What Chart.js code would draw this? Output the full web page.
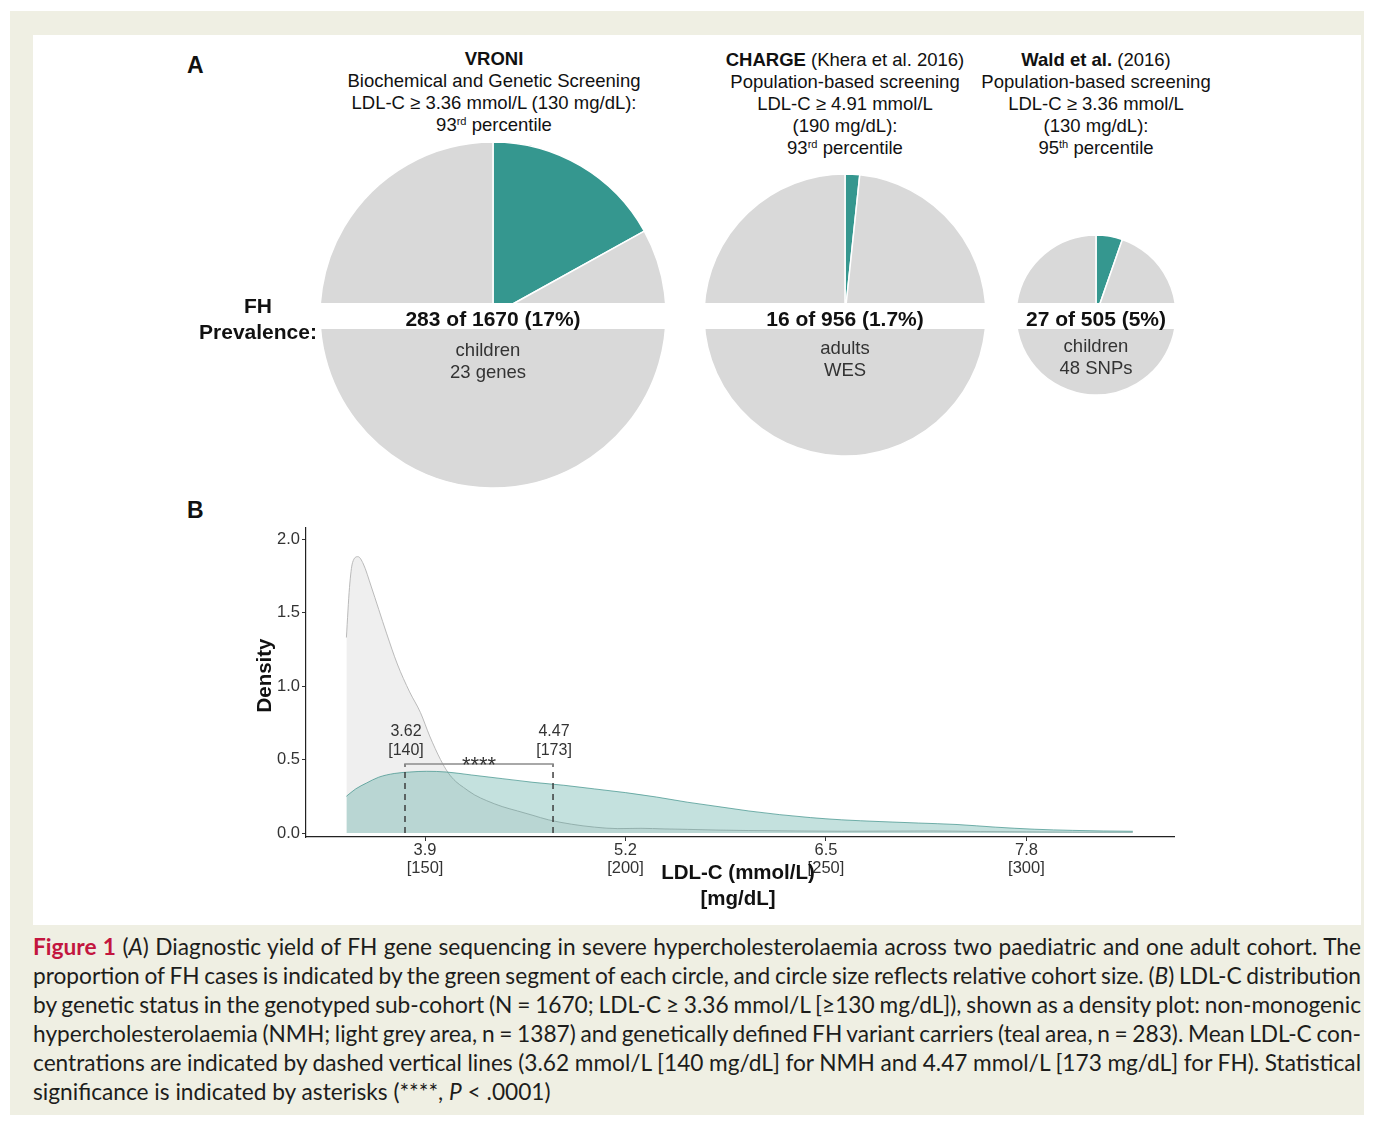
<!DOCTYPE html>
<html>
<head>
<meta charset="utf-8">
<script src="https://cdn.jsdelivr.net/npm/chart.js@4.4.1/dist/chart.umd.min.js"></script>
<style>
  body { margin: 0; background: #fff; }
  #page { position: relative; width: 1373px; height: 1125px; overflow: hidden; font-family: "Liberation Sans", Arial, sans-serif; color: #111; }
  #frame { position: absolute; left: 10px; top: 11px; width: 1354px; height: 1104px; background: #efefe3; }
  #panel { position: absolute; left: 33px; top: 35px; width: 1328px; height: 890px; background: #fff; }
  canvas { position: absolute; }
  .c { position: absolute; transform: translateX(-50%); text-align: center; white-space: nowrap; }
  .title { font-size: 18.5px; line-height: 22px; color: #111; }
  .big { font-size: 21px; line-height: 26px; font-weight: bold; color: #111; }
  .sub { font-size: 18.5px; line-height: 22px; color: #333; }
  .letter { position: absolute; font-size: 23px; font-weight: bold; }
  sup { font-size: 0.6em; vertical-align: 0.55em; line-height: 0; }
  #band { position: absolute; left: 300px; top: 303px; width: 900px; height: 26px; background: #fff; }
  #caption { position: absolute; left: 33px; top: 932px; width: 1328px; font-family: Lato, "Noto Sans", sans-serif; font-size: 22.7px; line-height: 29px; color: #1d1d1b; }
  #caption .ln { white-space: nowrap; }
  #caption .ln span { display: inline-block; }
  .fig { color: #c3163f; }
</style>
</head>
<body>
<div id="page">
  <div id="frame"></div>
  <div id="panel"></div>

  <!-- panel A -->
  <div class="letter" style="left:187px; top:52px;">A</div>
  <div class="c title" style="left:494px; top:48px;"><b>VRONI</b><br>Biochemical and Genetic Screening<br>LDL-C ≥ 3.36 mmol/L (130 mg/dL):<br>93<sup>rd</sup> percentile</div>
  <div class="c title" style="left:845px; top:49px;"><b>CHARGE</b> (Khera et al. 2016)<br>Population-based screening<br>LDL-C ≥ 4.91 mmol/L<br>(190 mg/dL):<br>93<sup>rd</sup> percentile</div>
  <div class="c title" style="left:1096px; top:49px;"><b>Wald et al.</b> (2016)<br>Population-based screening<br>LDL-C ≥ 3.36 mmol/L<br>(130 mg/dL):<br>95<sup>th</sup> percentile</div>

  <canvas id="pie0" width="352" height="352" style="left:317px; top:139px;"></canvas>
  <canvas id="pie1" width="288" height="288" style="left:701px; top:171px;"></canvas>
  <canvas id="pie2" width="166" height="166" style="left:1013px; top:232px;"></canvas>

  <div id="band"></div>
  <div class="c big" style="left:258px; top:293px;">FH<br>Prevalence:</div>
  <div class="c big" style="left:493px; top:306px;">283 of 1670 (17%)</div>
  <div class="c big" style="left:845px; top:306px;">16 of 956 (1.7%)</div>
  <div class="c big" style="left:1096px; top:306px;">27 of 505 (5%)</div>
  <div class="c sub" style="left:488px; top:339px;">children<br>23 genes</div>
  <div class="c sub" style="left:845px; top:337px;">adults<br>WES</div>
  <div class="c sub" style="left:1096px; top:335px;">children<br>48 SNPs</div>

  <!-- panel B -->
  <div class="letter" style="left:187px; top:497px;">B</div>
  <canvas id="dens" width="980" height="410" style="left:230px; top:515px;"></canvas>

  <div id="caption">
    <div class="ln"><span><b class="fig">Figure 1</b> (<i>A</i>) Diagnostic yield of FH gene sequencing in severe hypercholesterolaemia across two paediatric and one adult cohort. The</span></div>
    <div class="ln"><span>proportion of FH cases is indicated by the green segment of each circle, and circle size reflects relative cohort size. (<i>B</i>) LDL-C distribution</span></div>
    <div class="ln"><span>by genetic status in the genotyped sub-cohort (N = 1670; LDL-C ≥ 3.36 mmol/L [≥130 mg/dL]), shown as a density plot: non-monogenic</span></div>
    <div class="ln"><span>hypercholesterolaemia (NMH; light grey area, n = 1387) and genetically defined FH variant carriers (teal area, n = 283). Mean LDL-C con-</span></div>
    <div class="ln"><span>centrations are indicated by dashed vertical lines (3.62 mmol/L [140 mg/dL] for NMH and 4.47 mmol/L [173 mg/dL] for FH). Statistical</span></div>
    <div class="ln last"><span>significance is indicated by asterisks (****, <i>P</i> &lt; .0001)</span></div>
  </div>
</div>

<script>
// panel A: FH cases out of each cohort
const cohorts = ["VRONI", "CHARGE", "Wald"];
const fhCases = [283, 16, 27];
const cohortSize = [1670, 956, 505];
const pieRadius = [173, 141, 80];

// panel B: density curves (LDL-C in mmol/L)
const nmhX = [3.39, 3.41, 3.43, 3.465, 3.50, 3.55, 3.60, 3.65, 3.72, 3.80, 3.87, 3.93, 4.00, 4.05, 4.10, 4.15, 4.22, 4.30, 4.40, 4.50, 4.60, 4.70, 4.85, 5.00, 5.15, 5.30, 5.45, 5.60, 5.80, 6.00, 6.30, 6.60, 6.90, 7.20, 7.50, 7.80, 8.10, 8.49];
const nmhY = [1.33, 1.67, 1.84, 1.88, 1.83, 1.68, 1.52, 1.36, 1.15, 0.96, 0.82, 0.66, 0.50, 0.41, 0.35, 0.31, 0.26, 0.22, 0.18, 0.15, 0.12, 0.09, 0.06, 0.04, 0.03, 0.032, 0.028, 0.025, 0.02, 0.017, 0.014, 0.012, 0.013, 0.014, 0.01, 0.008, 0.006, 0.005];
const fhX = [3.39, 3.45, 3.52, 3.60, 3.70, 3.80, 3.91, 4.04, 4.20, 4.40, 4.60, 4.80, 5.00, 5.20, 5.40, 5.60, 5.80, 6.00, 6.20, 6.40, 6.60, 6.85, 7.10, 7.35, 7.60, 7.85, 8.10, 8.30, 8.49];
const fhY = [0.25, 0.30, 0.34, 0.38, 0.405, 0.415, 0.42, 0.415, 0.395, 0.37, 0.345, 0.325, 0.30, 0.275, 0.245, 0.21, 0.18, 0.15, 0.125, 0.105, 0.09, 0.078, 0.068, 0.058, 0.04, 0.026, 0.018, 0.014, 0.012];
const meanPos = [3.77, 4.73];
const meanLabels = [["3.62", "[140]"], ["4.47", "[173]"]];
const bracketY = 0.47;
const xTicks = [3.9, 5.2, 6.5, 7.8];
const xTicksMg = ["[150]", "[200]", "[250]", "[300]"];
const yTicks = [0, 0.5, 1.0, 1.5, 2.0];

const TEAL = "#35978f";
const PIE_GREY = "#d9d9d9";
const FONT = '"Liberation Sans", Arial, sans-serif';

// caption: stretch each line (except the last) to the full width, like justified print
document.querySelectorAll("#caption .ln:not(.last) span").forEach((sp) => {
  const spaces = (sp.textContent.match(/ /g) || []).length;
  const extra = 1328 - sp.getBoundingClientRect().width;
  sp.style.wordSpacing = (extra / spaces) + "px";
});

cohorts.forEach((name, i) => {
  new Chart(document.getElementById("pie" + i), {
    type: "pie",
    data: {
      labels: ["FH", "no FH"],
      datasets: [{
        data: [fhCases[i], cohortSize[i] - fhCases[i]],
        backgroundColor: [TEAL, PIE_GREY],
        borderColor: "#ffffff",
        borderWidth: 1.5,
        radius: pieRadius[i],
      }],
    },
    options: {
      responsive: false,
      animation: false,
      events: [],
      layout: { padding: 0 },
      plugins: { legend: { display: false }, tooltip: { enabled: false } },
    },
  });
});

const pts = (xs, ys) => xs.map((x, i) => ({ x: x, y: ys[i] }));

// texts on the density plot: mean labels, asterisks, axis titles
const annotations = {
  id: "annotations",
  afterDraw(chart) {
    const { ctx, chartArea: a } = chart;
    const x = chart.scales.x, y = chart.scales.y;
    const yb = y.getPixelForValue(bracketY);
    ctx.save();
    ctx.fillStyle = "#333";
    ctx.textAlign = "center";
    ctx.textBaseline = "middle";
    ctx.font = "16px " + FONT;
    meanPos.forEach((m, i) => {
      const px = x.getPixelForValue(m);
      ctx.fillText(meanLabels[i][0], px + 1, yb - 32);
      ctx.fillText(meanLabels[i][1], px + 1, yb - 13);
    });
    ctx.textBaseline = "alphabetic";
    ctx.font = "22px " + FONT;
    const mid = (x.getPixelForValue(meanPos[0]) + x.getPixelForValue(meanPos[1])) / 2;
    ctx.fillText("****", mid, yb + 8.5);

    ctx.fillStyle = "#111";
    ctx.font = "bold 20.5px " + FONT;
    ctx.textBaseline = "middle";
    const cx = (a.left + a.right) / 2 - 2;
    ctx.fillText("LDL-C (mmol/L)", cx, a.bottom + 36);
    ctx.fillText("[mg/dL]", cx, a.bottom + 62);
    ctx.translate(a.left - 41, (a.top + a.bottom) / 2 - 7);
    ctx.rotate(-Math.PI / 2);
    ctx.fillText("Density", 0, 0);
    ctx.restore();
  },
};

const tickFont = { family: FONT, size: 16.5, lineHeight: 1.1 };

new Chart(document.getElementById("dens"), {
  type: "line",
  data: {
    datasets: [
      { label: "NMH", data: pts(nmhX, nmhY), fill: "origin", backgroundColor: "rgba(205,205,205,0.33)",
        borderColor: "#b3b3b3", borderWidth: 0.9, pointRadius: 0, cubicInterpolationMode: "monotone", order: 5 },
      { label: "FH", data: pts(fhX, fhY), fill: "origin", backgroundColor: "rgba(53,151,143,0.29)",
        borderColor: "rgba(53,140,133,0.75)", borderWidth: 0.9, pointRadius: 0, cubicInterpolationMode: "monotone", order: 4 },
      { label: "mean NMH", data: [{ x: meanPos[0], y: 0 }, { x: meanPos[0], y: bracketY }],
        borderColor: "#333", borderWidth: 1.4, borderDash: [6, 5], pointRadius: 0, fill: false, order: 2 },
      { label: "mean FH", data: [{ x: meanPos[1], y: 0 }, { x: meanPos[1], y: bracketY }],
        borderColor: "#333", borderWidth: 1.4, borderDash: [6, 5], pointRadius: 0, fill: false, order: 2 },
      { label: "bracket", data: [{ x: meanPos[0], y: bracketY - 0.02 }, { x: meanPos[0], y: bracketY }, { x: meanPos[1], y: bracketY }, { x: meanPos[1], y: bracketY - 0.02 }],
        borderColor: "#8c8c8c", borderWidth: 1.6, pointRadius: 0, fill: false, order: 1 },
    ],
  },
  options: {
    responsive: false,
    animation: false,
    events: [],
    layout: { padding: { top: 13, right: 36, left: 0, bottom: 0 } },
    plugins: { legend: { display: false }, tooltip: { enabled: false } },
    scales: {
      x: {
        type: "linear", min: 3.128, max: 8.757,
        afterBuildTicks: (s) => { s.ticks = xTicks.map((v) => ({ value: v })); },
        afterFit: (s) => { s.height = 88; },
        ticks: { callback: (v, i) => [v.toFixed(1), xTicksMg[i]], color: "#333", font: tickFont, padding: 0, maxRotation: 0, autoSkip: false },
        grid: { display: true, drawOnChartArea: false, drawTicks: true, tickLength: 4, color: "#333" },
        border: { display: true, color: "#222", width: 1.2 },
      },
      y: {
        min: -0.027, max: 2.075,
        afterBuildTicks: (s) => { s.ticks = yTicks.map((v) => ({ value: v })); },
        afterFit: (s) => { s.width = 76; },
        ticks: { callback: (v) => v.toFixed(1), color: "#333", font: tickFont, padding: 2 },
        grid: { display: true, drawOnChartArea: false, drawTicks: true, tickLength: 4, color: "#333" },
        border: { display: true, color: "#222", width: 1.2 },
      },
    },
  },
  plugins: [annotations],
});
</script>
</body>
</html>
